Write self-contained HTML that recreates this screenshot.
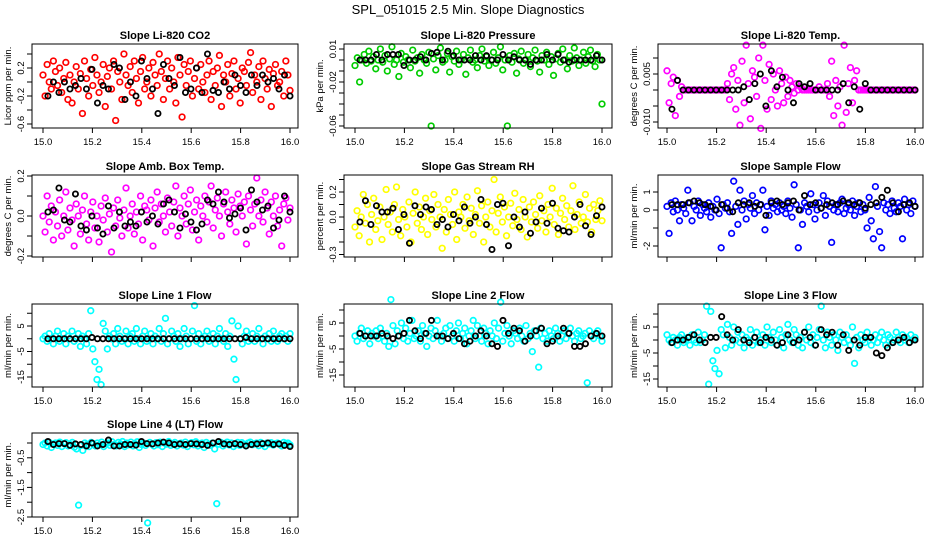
<!DOCTYPE html>
<html><head><meta charset="utf-8"><style>
body{margin:0;background:#fff;}
svg{display:block;font-family:"Liberation Sans",sans-serif;}
</style></head><body>
<svg id="c" width="936" height="540" viewBox="0 0 936 540">
<text x="468" y="14" text-anchor="middle" font-size="13">SPL_051015  2.5 Min. Slope Diagnostics</text>
</svg>
<script>
const co2 = [0.1,-0.2,0.25,0.0,-0.1,0.3,0.15,-0.05,0.2,-0.15,0.05,0.28,-0.25,0.1,-0.3,0.0,0.22,-0.1,0.12,-0.45,0.3,0.05,-0.2,0.18,-0.05,0.35,0.1,-0.15,0.0,0.25,-0.35,0.08,0.2,-0.1,0.3,-0.55,0.15,0.0,-0.25,0.4,0.1,-0.05,0.22,-0.15,0.3,0.05,-0.3,0.15,0.35,-0.1,0.0,0.2,-0.2,0.28,0.1,-0.05,0.4,0.15,-0.25,0.05,0.3,-0.1,0.2,0.0,-0.3,0.35,0.1,-0.5,0.25,-0.05,0.15,0.3,-0.2,0.05,0.2,-0.1,0.25,0.0,-0.15,0.1,0.3,-0.25,0.15,-0.05,0.2,0.38,-0.35,0.1,0.0,0.25,-0.2,0.12,0.3,-0.1,0.05,-0.3,0.2,0.15,-0.05,0.28,0.42,-0.15,0.1,0.0,0.22,-0.25,0.3,0.05,-0.1,0.18,-0.35,0.12,0.25,-0.05,0.0,0.15,-0.2,0.3,0.1,-0.12];
const co2Ref = [-0.2,0.0,-0.15,0.0,-0.1,-0.05,0.05,-0.1,0.18,-0.3,-0.05,-0.1,0.25,0.2,-0.25,0.0,-0.2,0.3,0.05,-0.1,-0.45,0.25,0.05,-0.05,0.35,-0.15,-0.1,0.2,-0.15,0.4,-0.12,-0.15,0.0,-0.1,0.1,-0.05,-0.15,0.1,-0.05,0.1,0.0,0.05,-0.1,0.1,-0.2];
const pres = [-0.005,0.002,-0.02,0.0,0.005,-0.003,0.008,-0.001,0.003,-0.008,0.0,0.01,-0.002,0.004,-0.01,0.001,0.012,-0.004,0.0,-0.015,0.006,-0.002,0.003,0.0,-0.007,0.009,-0.001,0.002,-0.012,0.005,0.0,-0.003,0.007,-0.06,0.001,-0.009,0.004,0.011,-0.002,0.0,0.006,-0.011,0.003,-0.001,0.008,-0.004,0.0,0.005,-0.013,0.002,0.009,-0.002,0.0,-0.007,0.004,0.01,-0.001,0.003,-0.005,0.0,0.007,-0.003,0.002,0.012,-0.009,0.0,-0.06,0.004,-0.002,0.006,-0.012,0.001,0.008,-0.003,0.0,0.005,-0.006,0.002,0.009,-0.001,-0.011,0.004,0.0,0.007,-0.004,0.003,-0.014,0.001,0.006,-0.002,0.01,0.0,-0.008,0.004,-0.001,0.011,0.002,-0.005,0.0,0.007,-0.003,0.003,0.009,-0.001,-0.006,0.005,0.0,-0.04];
const presRef = [0.0,0.0,0.0,0.005,0.0,0.005,0.005,0.005,-0.005,0.0,0.0,0.003,0.0,0.006,0.007,0.0,0.008,0.004,0.0,0.0,0.0,0.004,0.0,0.004,0.0,0.0,0.005,0.0,0.003,0.0,0.0,-0.004,0.0,0.0,0.005,0.0,0.005,0.0,-0.002,0.0,0.0,0.0,0.0,0.004,0.0];
const temp = [0.006,-0.004,0.002,0.004,-0.008,0.003,-0.002,0.001,0,0,0,0,0,0,0,0,0,0,0,0,0,0,0,0,0,0,0,0,0,0.002,-0.003,0.005,0.007,-0.006,0.003,-0.011,0.009,-0.004,0.014,0.002,-0.009,0.006,0.004,-0.002,0.01,-0.012,0.014,0.003,-0.006,0.008,-0.003,0.005,0.0,-0.005,0.006,0.002,-0.004,0.004,-0.002,0.003,0.001,-0.001,0.002,0,0.001,0,0,0,0,0,0,0,0,0.001,0,0,0,0.002,-0.002,0.009,-0.008,0.003,-0.005,0.001,-0.011,0.014,-0.007,0.002,0.007,-0.004,0.003,0.006,0,0,0,0,0,0,0,0,0,0,0,0,0,0,0,0,0,0,0,0,0,0,0,0,0,0,0,0];
const tempRef = [-0.006,0.003,0,0,0,0,0,0,0,0,0,0,0,0.001,-0.003,0.002,0.005,-0.005,0.006,0.001,0.004,0,-0.004,0.002,0.001,0.002,0,0,0,0,0,0.002,-0.004,0.001,-0.006,0.002,0,0,0,0,0,0,0,0,0];
const amb = [0.0,-0.08,0.1,-0.03,0.05,-0.12,0.02,-0.05,0.08,-0.1,0.0,0.12,-0.07,0.04,-0.02,-0.15,0.06,0.0,-0.09,0.03,0.1,-0.04,-0.12,0.02,0.07,-0.06,0.0,-0.13,0.05,-0.02,0.09,-0.08,0.01,-0.18,0.04,-0.05,0.08,-0.01,-0.1,0.03,0.14,-0.06,0.0,0.06,-0.09,0.02,-0.04,0.1,-0.12,0.05,0.03,-0.02,0.08,-0.15,0.04,0.12,-0.03,0.06,0.0,-0.08,0.09,0.02,-0.05,0.07,0.15,-0.1,0.04,0.0,0.1,-0.04,0.06,0.13,-0.07,0.02,0.08,-0.12,0.05,0.0,0.1,-0.03,0.07,0.15,-0.06,0.03,0.09,0.0,-0.1,0.06,0.12,0.02,-0.04,0.08,0.04,-0.08,0.11,0.05,0.0,0.07,-0.14,0.1,0.03,-0.05,0.06,0.19,0.0,0.08,-0.03,0.12,0.04,-0.09,0.07,0.0,0.1,-0.05,0.03,-0.15,0.06,0.09,-0.02,0.04];
const ambRef = [0.02,0.03,0.14,-0.02,-0.03,0.11,-0.05,-0.07,0.0,-0.06,-0.09,0.05,-0.06,0.02,-0.05,-0.03,-0.05,0.02,-0.03,0.0,-0.04,0.06,0.08,0.02,-0.06,0.01,-0.03,-0.07,-0.04,0.08,0.06,0.12,0.07,-0.01,0.01,0.04,-0.07,0.13,0.07,0.03,0.05,-0.06,-0.02,0.1,0.02];
const rh = [-0.08,0.05,-0.15,0.0,0.18,-0.05,0.1,-0.2,0.02,0.15,-0.1,-0.03,0.08,-0.18,0.0,0.22,-0.06,0.04,-0.12,0.1,0.24,-0.02,-0.15,0.06,0.0,-0.08,0.12,-0.2,0.03,0.2,-0.05,0.08,-0.1,0.0,0.15,-0.14,0.05,-0.02,0.18,-0.08,0.1,0.0,-0.25,0.06,-0.12,0.14,0.02,-0.06,0.2,-0.18,0.04,0.0,0.1,-0.09,0.16,-0.03,0.07,-0.14,0.02,0.21,-0.05,0.09,-0.2,0.0,0.12,-0.08,0.05,0.3,-0.12,0.03,0.16,-0.04,0.08,-0.15,0.0,0.11,-0.07,0.19,-0.02,0.06,-0.1,0.14,0.0,-0.16,0.08,-0.04,0.12,0.02,-0.09,0.17,-0.03,0.05,-0.12,0.1,0.0,0.23,-0.06,0.07,-0.14,0.03,0.15,-0.02,0.09,-0.08,0.05,0.25,-0.1,0.02,0.12,-0.05,0.0,0.18,-0.04,0.07,-0.12,0.1,-0.02,0.05,0.13,-0.03];
const rhRef = [-0.04,0.13,-0.06,0.09,0.04,0.04,0.07,-0.1,0.02,-0.21,0.09,0.02,0.08,0.06,-0.06,-0.02,-0.08,0.02,-0.03,0.08,-0.05,0.0,0.14,-0.06,-0.26,0.1,0.11,-0.23,0.0,-0.08,0.04,-0.13,-0.04,0.07,-0.05,0.11,-0.09,-0.11,-0.12,0.0,0.1,-0.07,-0.14,0.01,0.08];
const sflow = [0.2,-1.3,0.4,-0.1,0.5,0.0,-0.6,0.3,0.1,-0.2,1.1,0.4,-0.6,0.2,0.0,0.5,-0.3,0.3,0.1,-0.1,0.4,-0.4,0.2,0.0,0.6,-0.2,-2.1,0.3,0.1,0.4,-0.1,-1.3,1.6,0.2,-0.8,1.1,0.0,0.5,-0.5,0.3,0.1,0.8,-0.2,0.4,0.0,0.3,1.1,-1.1,0.2,-0.3,0.5,0.1,0.3,-0.1,0.4,0.0,0.2,-0.2,0.5,0.1,-0.4,1.4,0.3,-2.1,0.0,-0.8,0.4,0.2,-0.1,0.9,0.3,-0.5,0.0,0.4,0.1,0.8,-0.3,0.5,0.2,-1.8,0.0,0.3,-0.1,0.4,0.6,-0.2,0.1,0.3,0.0,0.5,-0.3,0.2,0.4,-0.1,0.3,0.0,-1.0,0.7,-0.6,-1.6,1.3,0.2,-1.2,-2.1,0.4,0.0,0.3,-0.2,0.5,0.1,-0.1,0.4,0.2,-1.6,0.6,0.0,0.3,-0.2,0.5,0.2];
const sflowRef = [0.3,0.3,0.3,0.4,0.5,0.4,0.3,0.2,0.0,0.3,0.1,-0.1,0.4,0.3,0.4,0.2,0.3,-0.3,0.4,0.5,0.3,0.4,0.5,0.0,0.8,0.3,0.4,0.1,0.3,0.4,0.3,0.5,0.4,0.3,0.4,0.1,0.3,0.4,0.7,1.1,0.4,-0.1,0.3,0.4,0.2];
const l1 = [0,1,-1,2,0,-2,1,3,-1,0,2,-2,1,0,3,-1,0,2,-3,1,0,-2,2,11,-4,-9,-16,-12,-18,6,3,-4,1,0,2,-2,4,1,-1,0,3,-2,1,2,-1,4,0,-2,1,3,-1,0,2,-2,1,0,4,-1,2,8,-2,0,3,1,-1,2,-3,0,4,1,-2,0,3,13,-1,2,-2,0,1,3,-1,0,2,-2,1,4,0,-1,2,-3,1,7,-8,-16,5,0,-2,1,3,-1,0,2,-1,1,4,0,-2,1,0,2,-1,3,0,-1,1,2,0,1,-1,2];
const l1Ref = [0,0,0,0,0,0,0,0,0.5,0,0,0,0,0,0,0,0,0,0,0,0,0,0,0,0,0,0,0,0,0,0,0,0,0,0,0,0.5,0,0,0,0,0,0,0,0];
const l2 = [0,-2,1,3,-1,0,2,-3,1,0,2,-1,3,0,-2,1,-4,14,4,-3,2,0,5,-1,3,-2,1,6,-1,0,2,-2,4,1,-4,0,3,-1,2,6,0,-2,1,3,-1,4,0,-2,2,5,-1,1,3,-3,0,2,6,-1,4,0,-2,3,1,-3,2,0,5,-1,3,13,-2,1,4,0,-3,2,1,-1,3,0,-2,4,-1,1,-6,2,0,-12,3,-1,1,-2,2,0,-1,3,1,-2,0,2,-1,1,3,0,-2,1,2,-1,0,1,-18,2,0,-1,1,2,0,-2];
const l2Ref = [1,0,0,0,1,0,-1,0,1,6,2,-1,1,6,0,0,-1,1,-1,-3,-2,0,2,0,-3,-4,6,1,3,2,-2,0,2,3,-3,-2,0,3,1,-4,-4,-3,0,1,0];
const l3 = [2,0,-1,1,0,-2,1,2,-1,0,1,-2,2,0,-1,3,-1,0,2,13,-17,11,-8,-11,-4,-13,4,2,-3,6,1,-2,5,0,3,-1,2,-3,1,0,4,-2,1,3,-1,0,2,-2,5,1,-1,3,0,-2,4,1,-3,2,6,0,-1,4,2,-2,1,-3,3,0,5,-1,2,-2,1,4,13,0,-3,3,1,-2,2,0,-4,3,1,-1,2,0,-2,5,-9,1,-3,2,0,-1,3,1,-2,0,2,-1,1,3,0,-2,2,1,-1,0,3,1,-1,2,0,1,-1,2,0,1];
const l3Ref = [-1,0,0,1,2,0,-1,1,1,9,2,0,4,0,-1,1,-1,1,0,-2,-1,2,-1,0,3,1,-2,4,2,3,-2,2,-4,0,-2,1,1,-5,-6,-3,-1,0,1,-1,0];
const l4 = [-0.05,0.0,-0.1,0.02,-0.15,-0.03,0.0,-0.08,0.03,-0.12,-0.02,0.01,-0.1,-0.05,0.02,-0.14,-0.2,-2.1,-0.08,-0.25,0.0,-0.05,-0.12,0.02,-0.03,-0.1,0.0,-0.06,0.03,-0.12,-0.02,0.0,-0.08,0.04,-0.05,-0.1,0.02,-0.03,0.05,-0.12,0.0,-0.06,0.03,-0.1,-0.02,0.04,-0.15,-0.05,0.0,-0.08,-2.7,0.02,-0.04,-0.1,0.01,-0.06,0.03,-0.12,0.0,-0.04,0.05,-0.08,-0.02,0.02,-0.1,-0.03,0.0,-0.07,0.03,-0.12,-0.02,0.01,-0.06,0.04,-0.1,-0.03,0.0,-0.15,0.02,-0.05,-0.08,0.0,-0.2,-2.05,-0.04,0.02,-0.1,-0.02,0.03,-0.07,0.0,-0.12,-0.04,0.02,-0.08,0.01,-0.05,-0.1,0.0,0.03,-0.06,-0.02,0.0,-0.09,0.02,-0.04,-0.12,0.0,-0.03,0.01,-0.07,-0.02,0.0,-0.05,-0.1,0.02,-0.03,0.0,-0.06];
const l4Ref = [0.05,-0.05,-0.02,-0.02,-0.08,-0.03,-0.05,-0.1,0.0,-0.1,-0.05,0.1,-0.1,-0.1,-0.05,-0.05,-0.07,0.05,-0.02,-0.03,0.0,0.03,0.0,-0.05,-0.03,-0.05,-0.02,-0.03,-0.05,-0.08,0.0,0.05,-0.03,-0.05,-0.02,-0.05,-0.1,-0.05,-0.03,-0.02,0.0,-0.05,-0.03,-0.08,-0.12];
const xTicks = [15.0,15.2,15.4,15.6,15.8,16.0];
const xTickLabels = ["15.0","15.2","15.4","15.6","15.8","16.0"];

const NS="http://www.w3.org/2000/svg";
const svg=document.getElementById('c');
function mk(tag,attrs,parent){const e=document.createElementNS(NS,tag);for(const k in attrs)e.setAttribute(k,attrs[k]);(parent||svg).appendChild(e);return e;}

const cols=[{bx0:32,bx1:298,x15:43,x16:290},{bx0:344,bx1:612,x15:355,x16:602},{bx0:658,bx1:923,x15:667,x16:915}];
const rows=[{y0:44,y1:128,xl:true},{y0:175,y1:257,xl:false},{y0:304,y1:387,xl:true},{y0:433,y1:517,xl:true}];
const panels=[
 {name:"co2",title:"Slope Li-820 CO2",ylab:"Licor ppm per min.",c:0,r:0,d:co2,k:co2Ref,col:"#ff0000",va:0.2,pa:68,vb:-0.2,pb:96,ticks:[-0.6,-0.4,-0.2,0,0.2,0.4],labs:[[-0.6,"-0.6"],[-0.2,"-0.2"],[0.2,"0.2"]]},
 {name:"pressure",title:"Slope Li-820 Pressure",ylab:"kPa per min.",c:1,r:0,d:pres,k:presRef,col:"#00cc00",va:0.01,pa:49,vb:-0.06,pb:126,ticks:[0.01,0,-0.01,-0.02,-0.03,-0.04,-0.05,-0.06],labs:[[0.01,"0.01"],[-0.02,"-0.02"],[-0.06,"-0.06"]]},
 {name:"temp",title:"Slope Li-820 Temp.",ylab:"degrees C per min.",c:2,r:0,d:temp,k:tempRef,col:"#ff00ff",va:0.005,pa:74,vb:-0.01,pb:122,ticks:[-0.01,-0.005,0,0.005,0.01],labs:[[-0.01,"-0.010"],[0.005,"0.005"]]},
 {name:"amb-temp",title:"Slope Amb. Box Temp.",ylab:"degrees C per min.",c:0,r:1,d:amb,k:ambRef,col:"#ff00ff",va:0.2,pa:176,vb:-0.2,pb:256,ticks:[-0.2,-0.1,0,0.1,0.2],labs:[[-0.2,"-0.2"],[0,"0.0"],[0.2,"0.2"]]},
 {name:"rh",title:"Slope Gas Stream RH",ylab:"percent per min.",c:1,r:1,d:rh,k:rhRef,col:"#ffff00",va:0.2,pa:192,vb:0,pb:217,ticks:[-0.3,-0.2,-0.1,0,0.1,0.2,0.3],labs:[[-0.3,"-0.3"],[0,"0.0"],[0.2,"0.2"]]},
 {name:"sample-flow",title:"Slope Sample Flow",ylab:"ml/min per min.",c:2,r:1,d:sflow,k:sflowRef,col:"#0000ff",va:1,pa:192,vb:0,pb:210,ticks:[-2,-1,0,1],labs:[[-2,"-2"],[0,"0"],[1,"1"]]},
 {name:"line1",title:"Slope Line 1 Flow",ylab:"ml/min per min.",c:0,r:2,d:l1,k:l1Ref,col:"#00ffff",va:5,pa:326,vb:-15,pb:377,ticks:[10,5,0,-5,-10,-15],labs:[[5,"5"],[-5,"-5"],[-15,"-15"]]},
 {name:"line2",title:"Slope Line 2 Flow",ylab:"ml/min per min.",c:1,r:2,d:l2,k:l2Ref,col:"#00ffff",va:5,pa:323,vb:-15,pb:375,ticks:[10,5,0,-5,-10,-15],labs:[[5,"5"],[-5,"-5"],[-15,"-15"]]},
 {name:"line3",title:"Slope Line 3 Flow",ylab:"ml/min per min.",c:2,r:2,d:l3,k:l3Ref,col:"#00ffff",va:5,pa:327,vb:-15,pb:379,ticks:[10,5,0,-5,-10,-15],labs:[[5,"5"],[-5,"-5"],[-15,"-15"]]},
 {name:"line4",title:"Slope Line 4 (LT) Flow",ylab:"ml/min per min.",c:0,r:3,d:l4,k:l4Ref,col:"#00ffff",va:0,pa:443,vb:-2.5,pb:517,ticks:[0,-0.5,-1,-1.5,-2,-2.5],labs:[[-0.5,"-0.5"],[-1.5,"-1.5"],[-2.5,"-2.5"]]}
];

panels.forEach(p=>{
  const C=cols[p.c],R=rows[p.r];
  const g=mk('g',{});
  
  
  const sx=v=>C.x15+(v-15)*(C.x16-C.x15);
  const sy=v=>p.pa+(v-p.va)*(p.pb-p.pa)/(p.vb-p.va);
  const t=mk('text',{x:(C.bx0+C.bx1)/2,y:R.y0-5,'text-anchor':'middle','font-size':11,'font-weight':'bold'},g);
  t.textContent=p.title;
  
  
  const yl=mk('text',{x:0,y:0,transform:`translate(${C.bx0-21},${(R.y0+R.y1)/2}) rotate(-90)`,'text-anchor':'middle','font-size':9.5},g);
  yl.textContent=p.ylab;
  
  
  const n=p.d.length;
  p.d.forEach((v,i)=>{
    const c=mk('circle',{cx:sx(15+i/(n-1)),cy:sy(v),r:2.8,fill:'none',stroke:p.col,'stroke-width':1.7},g);
    
    
  });
  const m=p.k.length;
  p.k.forEach((v,i)=>{
    const c=mk('circle',{cx:sx(15.02+0.98*i/(m-1)),cy:sy(v),r:2.6,fill:'none',stroke:'#000','stroke-width':1.8},g);
    
    
  });
  const box=mk('rect',{x:C.bx0,y:R.y0,width:C.bx1-C.bx0,height:R.y1-R.y0,fill:'none',stroke:'#000','stroke-width':1},g);
  
  
  p.ticks.forEach(v=>{
    mk('line',{x1:C.bx0-5,x2:C.bx0,y1:sy(v),y2:sy(v),stroke:'#000'},g);
  });
  p.labs.forEach(([v,s])=>{
    const tl=mk('text',{transform:`translate(${C.bx0-8},${sy(v)}) rotate(-90)`,'text-anchor':'middle','font-size':9.5},g);
    tl.textContent=s;
    
    
  });
  xTicks.forEach((v,i)=>{
    mk('line',{x1:sx(v),x2:sx(v),y1:R.y1,y2:R.y1+5,stroke:'#000'},g);
    if(R.xl){
      const xl=mk('text',{x:sx(v),y:R.y1+17,'text-anchor':'middle','font-size':9.5},g);
      xl.textContent=xTickLabels[i];
      
      
    }
  });
});
</script>
</body></html>
